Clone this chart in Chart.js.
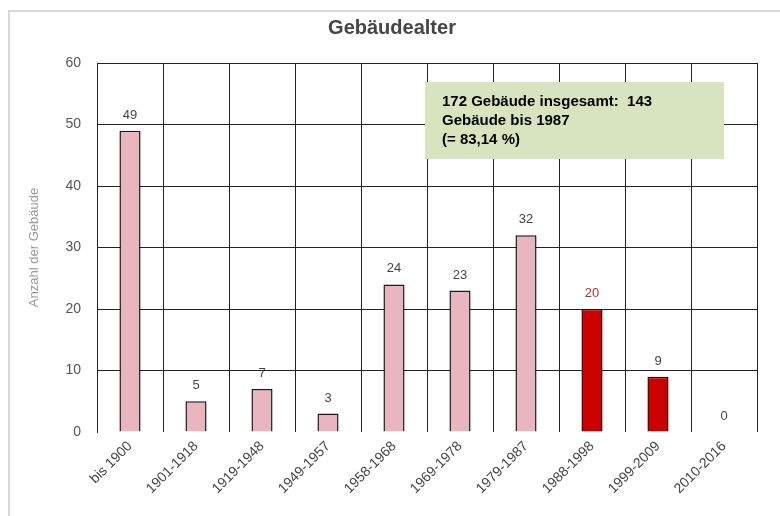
<!DOCTYPE html>
<html>
<head>
<meta charset="utf-8">
<script src="https://cdn.jsdelivr.net/npm/chart.js@4/dist/chart.umd.min.js"></script>
<style>
  html, body { margin: 0; padding: 0; background: #fff; }
  #wrap { width: 780px; height: 516px; }
</style>
</head>
<body>
<div id="wrap"><canvas id="myChart" width="780" height="516"></canvas></div>
<script>
  // Chart data
  const categories = ['bis 1900', '1901-1918', '1919-1948', '1949-1957', '1958-1968',
    '1969-1978', '1979-1987', '1988-1998', '1999-2009', '2010-2016'];
  const buildingCounts = [49, 5, 7, 3, 24, 23, 32, 20, 9, 0];
  const yTicks = [0, 10, 20, 30, 40, 50, 60];
  const noteLines = ['172 Gebäude insgesamt:  143', 'Gebäude bis 1987', '(= 83,14 %)'];

  const pink = '#e9b6bf';
  const red = '#cc0000';
  const barColors = buildingCounts.map((v, i) => i >= 7 ? red : pink);
  const barBorders = buildingCounts.map((v, i) => i >= 7 ? '#3a0000' : '#1a1a1a');
  const labelColors = buildingCounts.map((v, i) => i === 7 ? '#b03030' : '#444');

  // frame and background
  const framePlugin = {
    id: 'frame',
    beforeDraw(chart) {
      const ctx = chart.ctx;
      ctx.save();
      ctx.fillStyle = '#fff';
      ctx.fillRect(0, 0, chart.width, chart.height);
      ctx.strokeStyle = '#d9d9d9';
      ctx.lineWidth = 2;
      ctx.beginPath();
      ctx.moveTo(9, chart.height);
      ctx.lineTo(9, 11);
      ctx.lineTo(chart.width, 11);
      ctx.stroke();
      ctx.restore();
    }
  };

  // value labels above bars + text box
  const labelPlugin = {
    id: 'valueLabels',
    afterDatasetsDraw(chart) {
      const ctx = chart.ctx;
      const meta = chart.getDatasetMeta(0);
      ctx.save();
      ctx.font = '13px "Liberation Sans", Arial, sans-serif';
      ctx.textAlign = 'center';
      ctx.textBaseline = 'bottom';
      meta.data.forEach((bar, i) => {
        ctx.fillStyle = labelColors[i];
        ctx.fillText(String(buildingCounts[i]), bar.x, bar.y - 9);
      });

      // note box
      ctx.fillStyle = '#d7e4bd';
      ctx.fillRect(425, 82, 299, 77);
      ctx.fillStyle = '#000';
      ctx.font = 'bold 15px "Liberation Sans", Arial, sans-serif';
      ctx.textAlign = 'left';
      ctx.textBaseline = 'alphabetic';
      noteLines.forEach((t, i) => ctx.fillText(t, 442, 106 + i * 19));
      ctx.restore();
    }
  };

  const ctx = document.getElementById('myChart');
  const myChart = new Chart(ctx, {
    type: 'bar',
    data: {
      labels: categories,
      datasets: [{
        data: buildingCounts,
        backgroundColor: barColors,
        borderColor: barBorders,
        borderWidth: 1.5,
        barPercentage: 0.32,
        categoryPercentage: 1
      }]
    },
    options: {
      responsive: false,
      animation: false,
      layout: { padding: { left: 27, top: 14, right: 23, bottom: 0 } },
      plugins: {
        legend: { display: false },
        tooltip: { enabled: false },
        title: {
          display: true,
          text: 'Gebäudealter',
          color: '#454545',
          font: { family: '"Liberation Sans", Arial, sans-serif', size: 20, weight: 'bold' },
          padding: { top: 2, bottom: 23 }
        }
      },
      scales: {
        x: {
          grid: { color: '#222', lineWidth: 1, drawTicks: false, offset: true },
          border: { display: false },
          ticks: {
            minRotation: 45, maxRotation: 45, padding: 6,
            color: '#444',
            font: { family: '"Liberation Sans", Arial, sans-serif', size: 14 }
          },
          afterFit(scale) { scale.height = 84; }
        },
        y: {
          min: 0, max: 60,
          afterBuildTicks(scale) { scale.ticks = yTicks.map(v => ({ value: v })); },
          grid: {
            color: c => c.tick && c.tick.value === 0 ? 'rgba(0,0,0,0)' : '#222',
            lineWidth: 1, drawTicks: false
          },
          border: { display: true, color: '#222' },
          ticks: {
            padding: 16,
            color: '#555',
            font: { family: '"Liberation Sans", Arial, sans-serif', size: 14 }
          },
          title: {
            display: true,
            text: 'Anzahl der Gebäude',
            color: '#999',
            font: { family: '"Liberation Sans", Arial, sans-serif', size: 13 },
            padding: { top: 0, bottom: 6 }
          },
          afterFit(scale) { scale.width = 70; }
        }
      }
    },
    plugins: [framePlugin, labelPlugin]
  });
</script>
</body>
</html>
